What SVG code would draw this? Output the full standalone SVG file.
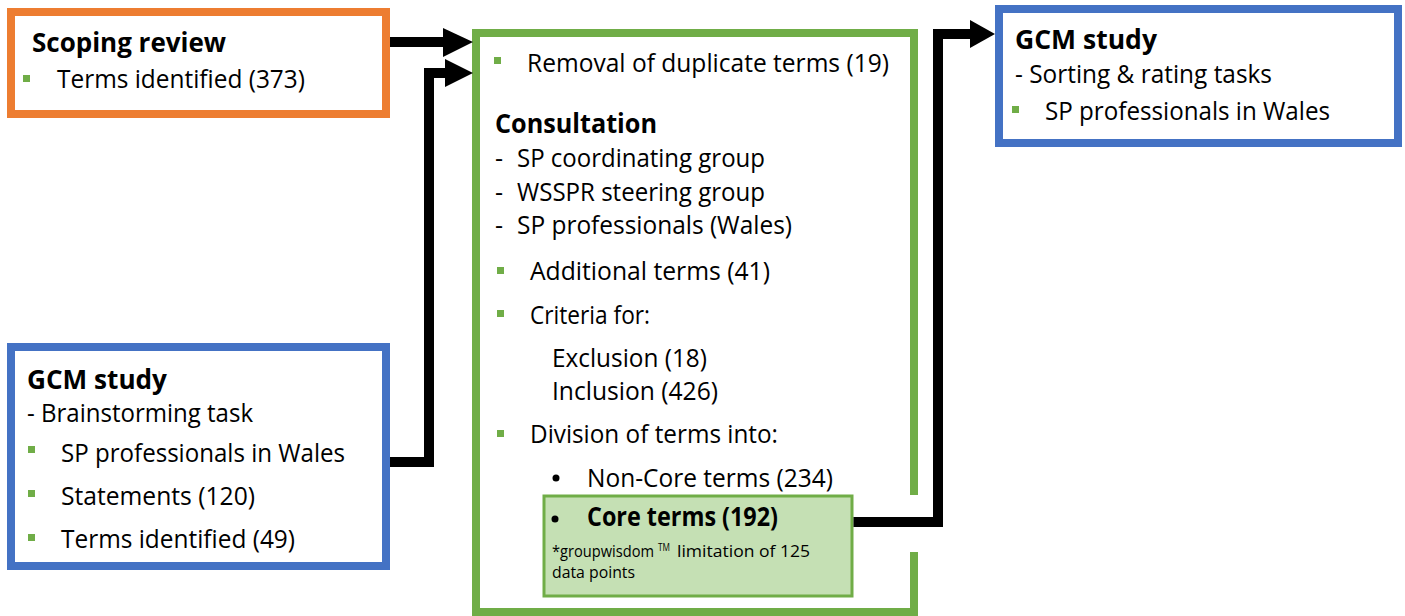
<svg xmlns="http://www.w3.org/2000/svg" width="1405" height="616" viewBox="0 0 1405 616">
<style>
.t{font-family:"Open Sans","Liberation Sans",sans-serif;font-size:25px;fill:#000}
.b{font-family:"Open Sans","Liberation Sans",sans-serif;font-size:26px;font-weight:bold;fill:#000}
.s{font-family:"Open Sans","Liberation Sans",sans-serif;font-size:17px;fill:#000}
.sup{font-family:"Open Sans","Liberation Sans",sans-serif;font-size:10px;fill:#000}
.sq{fill:#70AD47}
.box{fill:#fff;stroke-width:8}
.conn{fill:none;stroke:#000;stroke-width:10;stroke-linejoin:miter}
.head{fill:#000}
</style>
<rect width="1405" height="616" fill="#fff"/>
<g id="scoping-review">
  <rect class="box" x="11" y="12" width="375" height="102" stroke="#ED7D31"/>
  <text class="b" x="32" y="52" textLength="194" lengthAdjust="spacingAndGlyphs">Scoping review</text>
  <rect class="sq" x="23" y="75" width="7" height="7"/>
  <text class="t" x="57" y="88" textLength="248" lengthAdjust="spacingAndGlyphs">Terms identified (373)</text>
</g>
<g id="gcm-brainstorm">
  <rect class="box" x="11" y="347" width="375" height="219" stroke="#4472C4"/>
  <text class="b" x="27" y="389" textLength="140" lengthAdjust="spacingAndGlyphs">GCM study</text>
  <text class="t" x="27" y="422" textLength="226" lengthAdjust="spacingAndGlyphs">- Brainstorming task</text>
  <rect class="sq" x="28" y="446" width="7" height="7"/>
  <text class="t" x="61" y="462" textLength="284" lengthAdjust="spacingAndGlyphs">SP professionals in Wales</text>
  <rect class="sq" x="28" y="490" width="7" height="7"/>
  <text class="t" x="61" y="505" textLength="194" lengthAdjust="spacingAndGlyphs">Statements (120)</text>
  <rect class="sq" x="28" y="534" width="7" height="7"/>
  <text class="t" x="61" y="548" textLength="234" lengthAdjust="spacingAndGlyphs">Terms identified (49)</text>
</g>
<g id="consultation">
  <path d="M914,552 V612 H476 V33 H914 V495" fill="#fff" stroke="#70AD47" stroke-width="8"/>
  <rect class="sq" x="494" y="57" width="7" height="7"/>
  <text class="t" x="527" y="72" textLength="362" lengthAdjust="spacingAndGlyphs">Removal of duplicate terms (19)</text>
  <text class="b" x="495" y="133" textLength="162" lengthAdjust="spacingAndGlyphs">Consultation</text>
  <text class="t" x="495" y="167">-</text>
  <text class="t" x="517" y="167" textLength="248" lengthAdjust="spacingAndGlyphs">SP coordinating group</text>
  <text class="t" x="495" y="201">-</text>
  <text class="t" x="517" y="201" textLength="248" lengthAdjust="spacingAndGlyphs">WSSPR steering group</text>
  <text class="t" x="495" y="234">-</text>
  <text class="t" x="517" y="234" textLength="275" lengthAdjust="spacingAndGlyphs">SP professionals (Wales)</text>
  <rect class="sq" x="497" y="267" width="7" height="7"/>
  <text class="t" x="530" y="280" textLength="240" lengthAdjust="spacingAndGlyphs">Additional terms (41)</text>
  <rect class="sq" x="497" y="310" width="7" height="7"/>
  <text class="t" x="530" y="324" textLength="120" lengthAdjust="spacingAndGlyphs">Criteria for:</text>
  <text class="t" x="552" y="367" textLength="155" lengthAdjust="spacingAndGlyphs">Exclusion (18)</text>
  <text class="t" x="552" y="400" textLength="166" lengthAdjust="spacingAndGlyphs">Inclusion (426)</text>
  <rect class="sq" x="497" y="430" width="7" height="7"/>
  <text class="t" x="530" y="443" textLength="248" lengthAdjust="spacingAndGlyphs">Division of terms into:</text>
  <circle cx="556" cy="478" r="3.5" fill="#000"/>
  <text class="t" x="587" y="487" textLength="246" lengthAdjust="spacingAndGlyphs">Non-Core terms (234)</text>
</g>
<g id="core-terms">
  <rect x="544" y="496" width="308" height="100" fill="#C5E0B4" stroke="#70AD47" stroke-width="3"/>
  <circle cx="555" cy="519" r="3.5" fill="#000"/>
  <text class="b" x="587" y="526" textLength="191" lengthAdjust="spacingAndGlyphs">Core terms (192)</text>
  <text class="s" x="552" y="557" textLength="102" lengthAdjust="spacingAndGlyphs">*groupwisdom</text>
  <text class="sup" x="658" y="551" textLength="12" lengthAdjust="spacingAndGlyphs">TM</text>
  <text class="s" x="677" y="557" textLength="133" lengthAdjust="spacingAndGlyphs">limitation of 125</text>
  <text class="s" x="552" y="578" textLength="83" lengthAdjust="spacingAndGlyphs">data points</text>
</g>
<g id="gcm-sorting">
  <rect class="box" x="999" y="9" width="399" height="134" stroke="#4472C4"/>
  <text class="b" x="1015" y="49" textLength="142" lengthAdjust="spacingAndGlyphs">GCM study</text>
  <text class="t" x="1015" y="83" textLength="257" lengthAdjust="spacingAndGlyphs">- Sorting &amp; rating tasks</text>
  <rect class="sq" x="1012" y="106" width="7" height="7"/>
  <text class="t" x="1045" y="120" textLength="285" lengthAdjust="spacingAndGlyphs">SP professionals in Wales</text>
</g>
<g id="connectors">
  <path class="conn" d="M390,42 H446"/>
  <polygon class="head" points="443,28 473,42 443,57"/>
  <path class="conn" d="M390,462 H429 V73 H447"/>
  <polygon class="head" points="445,59 473,73 445,87"/>
  <path class="conn" d="M853.5,522 H938 V34 H972"/>
  <polygon class="head" points="970,20 995,34 970,48"/>
</g>
</svg>
